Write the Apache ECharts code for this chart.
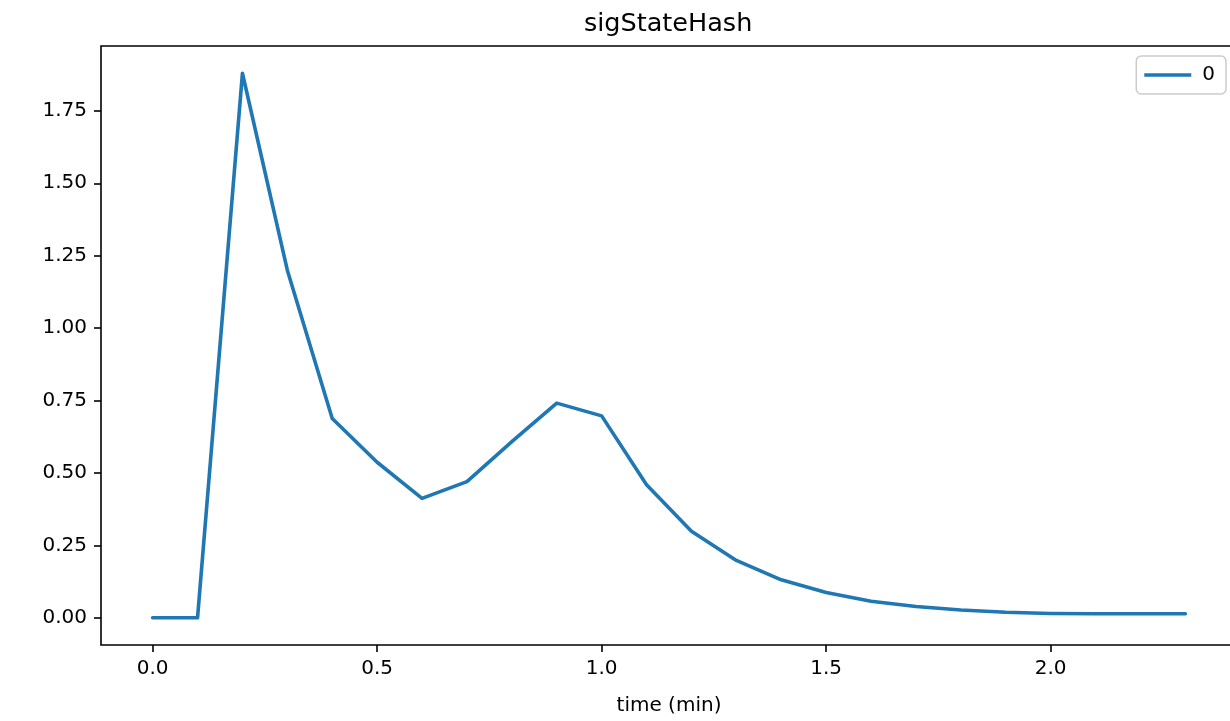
<!DOCTYPE html>
<html>
<head>
<meta charset="utf-8">
<script src="https://cdn.jsdelivr.net/npm/echarts@6/dist/echarts.min.js"></script>
<style>
html,body{margin:0;padding:0;background:#fff;overflow:hidden;width:1230px;height:721px;}
#chart{width:1238px;height:721px;}
</style>
</head>
<body>
<div id="chart"></div>
<script>
const times = [0.0,0.1,0.2,0.3,0.4,0.5,0.6,0.7,0.8,0.9,1.0,1.1,1.2,1.3,1.4,1.5,1.6,1.7,1.8,1.9,2.0,2.1,2.2,2.3];
const values = [0,0,1.880,1.200,0.688,0.537,0.412,0.470,0.608,0.741,0.697,0.459,0.299,0.198,0.131,0.087,0.057,0.039,0.027,0.019,0.015,0.014,0.014,0.014];
const xTicks = [0.0,0.5,1.0,1.5,2.0];
const yTicks = [0.00,0.25,0.50,0.75,1.00,1.25,1.50,1.75];
const seriesName = '0';
const titleText = 'sigStateHash';
const xName = 'time (min)';

const FONT = 'DejaVu Sans';
const chart = echarts.init(document.getElementById('chart'), null, {renderer:'canvas'});
chart.setOption({
  animation:false,
  backgroundColor:'#fff',
  title:{text:titleText,left:579,top:6,textStyle:{fontFamily:FONT,fontSize:25.5,fontWeight:'normal',color:'#000'}},
  legend:{
    data:[{name:seriesName,icon:'rect'}],
    right:12, top:56, itemWidth:47, itemHeight:3.5, itemGap:10,
    padding:[9,11,9,8],
    borderColor:'#cccccc', borderWidth:1.5, borderRadius:5,
    backgroundColor:'rgba(255,255,255,0.8)',
    textStyle:{fontFamily:FONT,fontSize:20,color:'#000',padding:[0,0,0,6]}
  },
  grid:{left:101,top:46,right:1,bottom:76,show:true,borderColor:'#000',borderWidth:1.6,backgroundColor:'#fff'},
  xAxis:{
    type:'value', min:-0.115, max:2.415,
    name:xName, nameLocation:'middle', nameGap:51,
    nameTextStyle:{fontFamily:FONT,fontSize:20,color:'#000'},
    axisLine:{show:false,onZero:false},
    splitLine:{show:false},
    axisTick:{show:true,inside:false,length:7,lineStyle:{color:'#000',width:1.6},customValues:xTicks},
    axisLabel:{margin:14,fontFamily:FONT,fontSize:20,color:'#000',customValues:xTicks,formatter:v=>Number(v).toFixed(1)}
  },
  yAxis:{
    type:'value', min:-0.094, max:1.974,
    axisLine:{show:false,onZero:false},
    splitLine:{show:false},
    axisTick:{show:true,inside:false,length:7,lineStyle:{color:'#000',width:1.6},customValues:yTicks},
    axisLabel:{margin:14,fontFamily:FONT,fontSize:20,color:'#000',customValues:yTicks,formatter:v=>Number(v).toFixed(2)}
  },
  series:[{
    name:seriesName, type:'line', showSymbol:false, symbol:'none',
    data:times.map((t,i)=>[t,values[i]]),
    lineStyle:{color:'#1f77b4',width:3.6,join:'round',cap:'round'},
    itemStyle:{color:'#1f77b4'}
  }]
});
</script>
</body>
</html>
